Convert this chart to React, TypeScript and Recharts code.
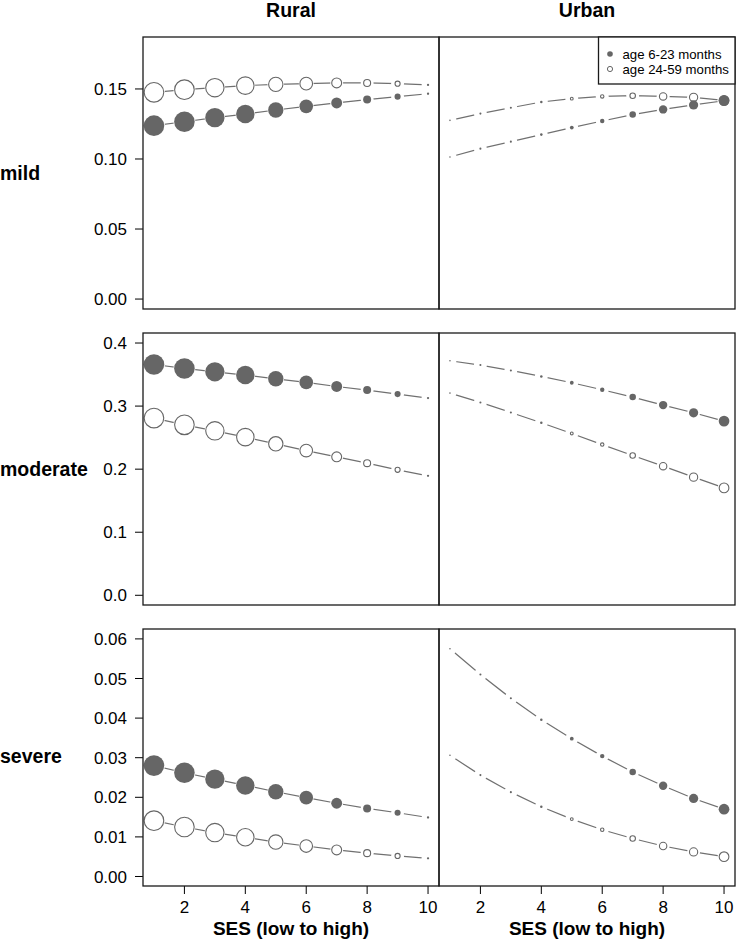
import React from 'react';
import { LineChart, Line, XAxis, YAxis } from 'recharts';

// SES deciles (low to high)
const ses = [1, 2, 3, 4, 5, 6, 7, 8, 9, 10];

// relative sample share per SES decile (drives the marker size)
const ruralShare = [0.98, 0.98, 0.92, 0.88, 0.73, 0.65, 0.52, 0.38, 0.29, 0.11];
const urbanShare = [0.07, 0.1, 0.1, 0.12, 0.18, 0.21, 0.31, 0.4, 0.44, 0.51];

// predicted probabilities, age 6-23 months (filled) / 24-59 months (open)
const ruralMildYoung = [0.1238, 0.1266, 0.1295, 0.1321, 0.135, 0.1376, 0.14, 0.1424, 0.1445, 0.1466];
const ruralMildOld = [0.1476, 0.1495, 0.1509, 0.1524, 0.1533, 0.1538, 0.1543, 0.1543, 0.1538, 0.1529];
const urbanMildYoung = [0.1014, 0.1074, 0.1124, 0.1174, 0.1224, 0.1271, 0.1317, 0.1354, 0.1386, 0.1416];
const urbanMildOld = [0.1276, 0.1324, 0.1366, 0.1407, 0.1431, 0.1447, 0.1452, 0.1447, 0.144, 0.1419];

const ruralModYoung = [0.366, 0.3597, 0.3544, 0.3492, 0.3433, 0.3375, 0.3311, 0.3254, 0.319, 0.3127];
const ruralModOld = [0.281, 0.2703, 0.2608, 0.2508, 0.2402, 0.2295, 0.2195, 0.2095, 0.1989, 0.1894];
const urbanModYoung = [0.3719, 0.3651, 0.3565, 0.347, 0.337, 0.3259, 0.3143, 0.3016, 0.2894, 0.2762];
const urbanModOld = [0.3206, 0.3058, 0.2899, 0.2735, 0.2566, 0.239, 0.2216, 0.2048, 0.1873, 0.1703];

const ruralSevYoung = [0.028, 0.0262, 0.0246, 0.023, 0.0214, 0.0199, 0.0185, 0.0172, 0.0161, 0.0149];
const ruralSevOld = [0.0141, 0.0125, 0.0111, 0.0099, 0.0087, 0.0077, 0.0067, 0.0059, 0.0052, 0.0046];
const urbanSevYoung = [0.0575, 0.051, 0.045, 0.0396, 0.0348, 0.0304, 0.0264, 0.0229, 0.0197, 0.017];
const urbanSevOld = [0.0306, 0.0256, 0.0213, 0.0176, 0.0145, 0.0118, 0.0096, 0.0077, 0.0062, 0.005];

const xTicks = [2, 4, 6, 8, 10];
const mildTicks = [0, 0.05, 0.1, 0.15];
const modTicks = [0, 0.1, 0.2, 0.3, 0.4];
const sevTicks = [0, 0.01, 0.02, 0.03, 0.04, 0.05, 0.06];

const rowLabels = ['mild', 'moderate', 'severe'];
const colLabels = ['Rural', 'Urban'];
const legendLabels = ['age 6-23 months', 'age 24-59 months'];

const FONT = '"Liberation Sans", Arial, Helvetica, sans-serif';
const LINE = '#707070';
const MARK = '#666666';
const MAX_R = 10.5;

const build = (young: number[], old: number[], share: number[]) =>
  ses.map((s, i) => ({ ses: s, young: young[i], old: old[i], w: share[i] }));

// white disc under each marker so the connecting line stops short of it
const halo = (props: any) => {
  const { cx, cy, payload, index } = props;
  if (cx == null || cy == null) return null;
  const r = payload.w * MAX_R;
  return <circle key={`h-${index}`} cx={cx} cy={cy} r={Math.max(r + 0.6, 6.5)} fill="#fff" />;
};

const filledDot = (props: any) => {
  const { cx, cy, payload, index } = props;
  if (cx == null || cy == null) return null;
  return <circle key={`f-${index}`} cx={cx} cy={cy} r={Math.max(payload.w * MAX_R, 0.8)} fill={MARK} />;
};

const openDot = (props: any) => {
  const { cx, cy, payload, index } = props;
  if (cx == null || cy == null) return null;
  const r = payload.w * MAX_R;
  if (r < 1.3) return <circle key={`o-${index}`} cx={cx} cy={cy} r={Math.max(r, 0.8)} fill={MARK} />;
  return <circle key={`o-${index}`} cx={cx} cy={cy} r={r - 0.5} fill="#fff" stroke={MARK} strokeWidth={1.1} />;
};

interface PanelProps {
  data: any[];
  domain: [number, number];
  ticks: number[];
  digits: number;
  showY: boolean;
  showX: boolean;
  left: number;
  top: number;
  width: number;
  height: number;
}

function Panel({ data, domain, ticks, digits, showY, showX, left, top, width, height }: PanelProps) {
  const yW = showY ? 143 : 0;
  return (
    <div style={{ position: 'absolute', left, top: top - 10 }}>
      <LineChart
        width={width + yW}
        height={height + 20 + (showX ? 30 : 0)}
        data={data}
        margin={{ top: 10, right: 0, bottom: showX ? 0 : 10, left: 0 }}
      >
        <XAxis
          dataKey="ses"
          type="number"
          domain={[0.64, 10.36]}
          ticks={xTicks}
          interval={0}
          allowDataOverflow
          hide={!showX}
          height={40}
          axisLine={false}
          tickSize={8}
          tickMargin={7}
          tickLine={{ stroke: '#000' }}
          tick={{ fontSize: 17, fill: '#000', fontFamily: FONT }}
        />
        <YAxis
          type="number"
          domain={domain}
          ticks={ticks}
          interval={0}
          allowDataOverflow
          hide={!showY}
          width={yW}
          axisLine={false}
          tickSize={8}
          tickMargin={8}
          tickLine={{ stroke: '#000' }}
          tick={{ fontSize: 17, fill: '#000', fontFamily: FONT }}
          tickFormatter={(v: number) => v.toFixed(digits)}
        />
        <Line dataKey="old" stroke={LINE} strokeWidth={1.2} dot={false} activeDot={false} isAnimationActive={false} />
        <Line dataKey="young" stroke={LINE} strokeWidth={1.2} dot={false} activeDot={false} isAnimationActive={false} />
        <Line dataKey="old" stroke="none" dot={halo} activeDot={false} isAnimationActive={false} />
        <Line dataKey="young" stroke="none" dot={halo} activeDot={false} isAnimationActive={false} />
        <Line dataKey="old" stroke="none" dot={openDot} activeDot={false} isAnimationActive={false} />
        <Line dataKey="young" stroke="none" dot={filledDot} activeDot={false} isAnimationActive={false} />
      </LineChart>
    </div>
  );
}

const rows = [
  {
    rural: build(ruralMildYoung, ruralMildOld, ruralShare),
    urban: build(urbanMildYoung, urbanMildOld, urbanShare),
    domain: [-0.0071, 0.1871] as [number, number],
    ticks: mildTicks,
    digits: 2,
    top: 37,
    height: 272,
    labelY: 180,
  },
  {
    rural: build(ruralModYoung, ruralModOld, ruralShare),
    urban: build(urbanModYoung, urbanModOld, urbanShare),
    domain: [-0.0154, 0.4159] as [number, number],
    ticks: modTicks,
    digits: 1,
    top: 333,
    height: 272,
    labelY: 476,
  },
  {
    rural: build(ruralSevYoung, ruralSevOld, ruralShare),
    urban: build(urbanSevYoung, urbanSevOld, urbanShare),
    domain: [-0.0024, 0.0625] as [number, number],
    ticks: sevTicks,
    digits: 2,
    top: 629,
    height: 257,
    labelY: 763,
  },
];

export default function App() {
  return (
    <div
      style={{
        position: 'absolute',
        left: 0,
        top: 0,
        width: 736,
        height: 939,
        background: '#fff',
        fontFamily: FONT,
        overflow: 'hidden',
      }}
    >
      {rows.map((r, i) => (
        <React.Fragment key={i}>
          <Panel
            data={r.rural}
            domain={r.domain}
            ticks={r.ticks}
            digits={r.digits}
            showY
            showX={i === 2}
            left={0}
            top={r.top}
            width={296}
            height={r.height}
          />
          <Panel
            data={r.urban}
            domain={r.domain}
            ticks={r.ticks}
            digits={r.digits}
            showY={false}
            showX={i === 2}
            left={439}
            top={r.top}
            width={296}
            height={r.height}
          />
        </React.Fragment>
      ))}
      <svg
        width={736}
        height={939}
        style={{ position: 'absolute', left: 0, top: 0, pointerEvents: 'none' }}
      >
        {rows.map((r, i) => (
          <g key={i}>
            <rect x={143} y={r.top} width={296} height={r.height} fill="none" stroke="#1a1a1a" strokeWidth={1.3} />
            <rect x={439} y={r.top} width={296} height={r.height} fill="none" stroke="#1a1a1a" strokeWidth={1.3} />
            <text x={0} y={r.labelY} fontSize={19.5} fontWeight="bold" fill="#000">
              {rowLabels[i]}
            </text>
          </g>
        ))}
        <text x={291} y={16.5} fontSize={19.5} fontWeight="bold" textAnchor="middle">{colLabels[0]}</text>
        <text x={587} y={16.5} fontSize={19.5} fontWeight="bold" textAnchor="middle">{colLabels[1]}</text>
        <text x={291} y={934.5} fontSize={19} fontWeight="bold" textAnchor="middle">SES (low to high)</text>
        <text x={587} y={934.5} fontSize={19} fontWeight="bold" textAnchor="middle">SES (low to high)</text>
        <rect x={598.5} y={37} width={136.5} height={47} fill="#fff" stroke="#1a1a1a" strokeWidth={1.3} />
        <circle cx={610} cy={54} r={2.8} fill={MARK} />
        <circle cx={610} cy={69} r={2.6} fill="#fff" stroke={MARK} strokeWidth={1} />
        <text x={622.5} y={58.6} fontSize={13.2} fill="#000">{legendLabels[0]}</text>
        <text x={622.5} y={73.6} fontSize={13.2} fill="#000">{legendLabels[1]}</text>
      </svg>
    </div>
  );
}
